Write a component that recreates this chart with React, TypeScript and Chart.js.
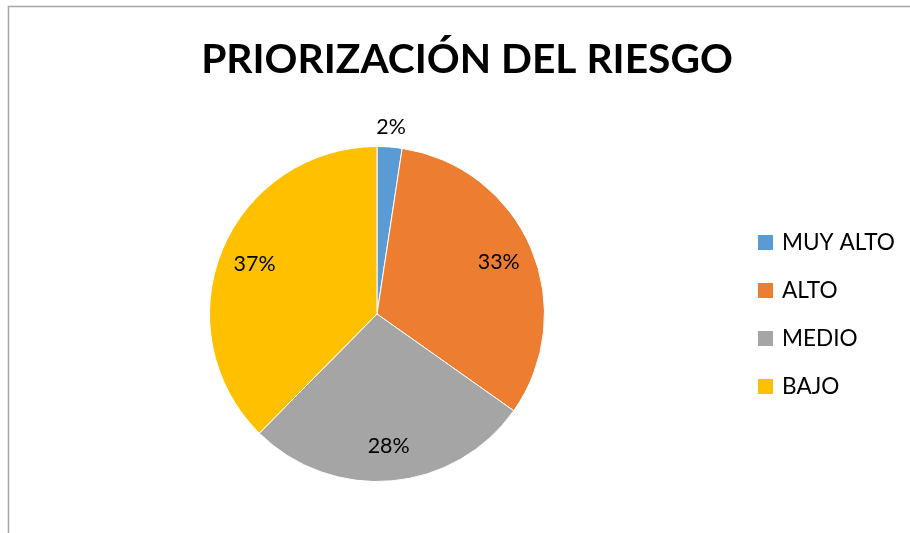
import React, { useEffect, useRef } from "react";
import { Chart, registerables } from "chart.js";

Chart.register(...registerables);

const TITLE = "PRIORIZACIÓN DEL RIESGO";
const CATEGORIES = ["MUY ALTO", "ALTO", "MEDIO", "BAJO"];
const VALUES = [2.4, 32.4, 27.6, 37.6];
const PCT_LABELS = ["2%", "33%", "28%", "37%"];
const COLORS = ["#5B9BD5", "#ED7D31", "#A5A5A5", "#FFC000"];

const FONT = "Lato, 'Open Sans', sans-serif";

function fitFont(ctx: CanvasRenderingContext2D, text: string, weight: string, target: number) {
  ctx.font = `${weight} 40px ${FONT}`;
  const w = ctx.measureText(text).width;
  return (40 * target) / w;
}

const decorPlugin = {
  id: "decor",
  afterDraw(chart: any) {
    const ctx: CanvasRenderingContext2D = chart.ctx;
    ctx.save();
    // frame
    ctx.strokeStyle = "#A6A6A6";
    ctx.lineWidth = 1.5;
    ctx.beginPath();
    ctx.moveTo(8.5, chart.height);
    ctx.lineTo(8.5, 6.5);
    ctx.lineTo(chart.width, 6.5);
    ctx.stroke();

    // title
    const ts = fitFont(ctx, TITLE, "bold", 532);
    ctx.font = `bold ${ts}px ${FONT}`;
    ctx.fillStyle = "#000";
    ctx.textAlign = "center";
    ctx.textBaseline = "middle";
    ctx.fillText(TITLE, 467, 60);

    // data labels
    const ls = fitFont(ctx, "33%", "normal", 42);
    ctx.font = `normal ${ls}px ${FONT}`;
    const meta = chart.getDatasetMeta(0);
    meta.data.forEach((arc: any, i: number) => {
      const { x, y, startAngle, endAngle, outerRadius } = arc.getProps(
        ["x", "y", "startAngle", "endAngle", "outerRadius"],
        true
      );
      const mid = (startAngle + endAngle) / 2;
      const small = endAngle - startAngle < 0.3;
      const r = small ? outerRadius + 20 : outerRadius * 0.79;
      ctx.fillStyle = "#000";
      ctx.fillText(PCT_LABELS[i], x + Math.cos(mid) * r, y + Math.sin(mid) * r);
    });

    // legend
    const gs = fitFont(ctx, "MUY ALTO", "normal", 113);
    ctx.font = `normal ${gs}px ${FONT}`;
    ctx.textAlign = "left";
    CATEGORIES.forEach((c, i) => {
      const cy = 242 + i * 48;
      ctx.fillStyle = COLORS[i];
      ctx.fillRect(758, cy - 7, 15, 15);
      ctx.fillStyle = "#000";
      ctx.fillText(c, 782, cy + 1);
    });
    ctx.restore();
  },
};

export default function App() {
  const ref = useRef<HTMLCanvasElement>(null);
  useEffect(() => {
    if (!ref.current) return;
    const chart = new Chart(ref.current, {
      type: "pie",
      data: {
        labels: CATEGORIES,
        datasets: [
          {
            data: VALUES,
            backgroundColor: COLORS,
            borderColor: "#FFFFFF",
            borderWidth: 1,
          },
        ],
      },
      options: {
        responsive: false,
        animation: false,
        layout: { padding: { left: 209, right: 365, top: 146, bottom: 51 } },
        plugins: {
          legend: { display: false },
          title: { display: false },
          tooltip: { enabled: false },
        },
      },
      plugins: [decorPlugin],
    });
    return () => chart.destroy();
  }, []);
  return (
    <div style={{ position: "fixed", left: 0, top: 0, width: 910, height: 533, background: "#fff" }}>
      <canvas ref={ref} width={910} height={533} style={{ display: "block" }} />
    </div>
  );
}
